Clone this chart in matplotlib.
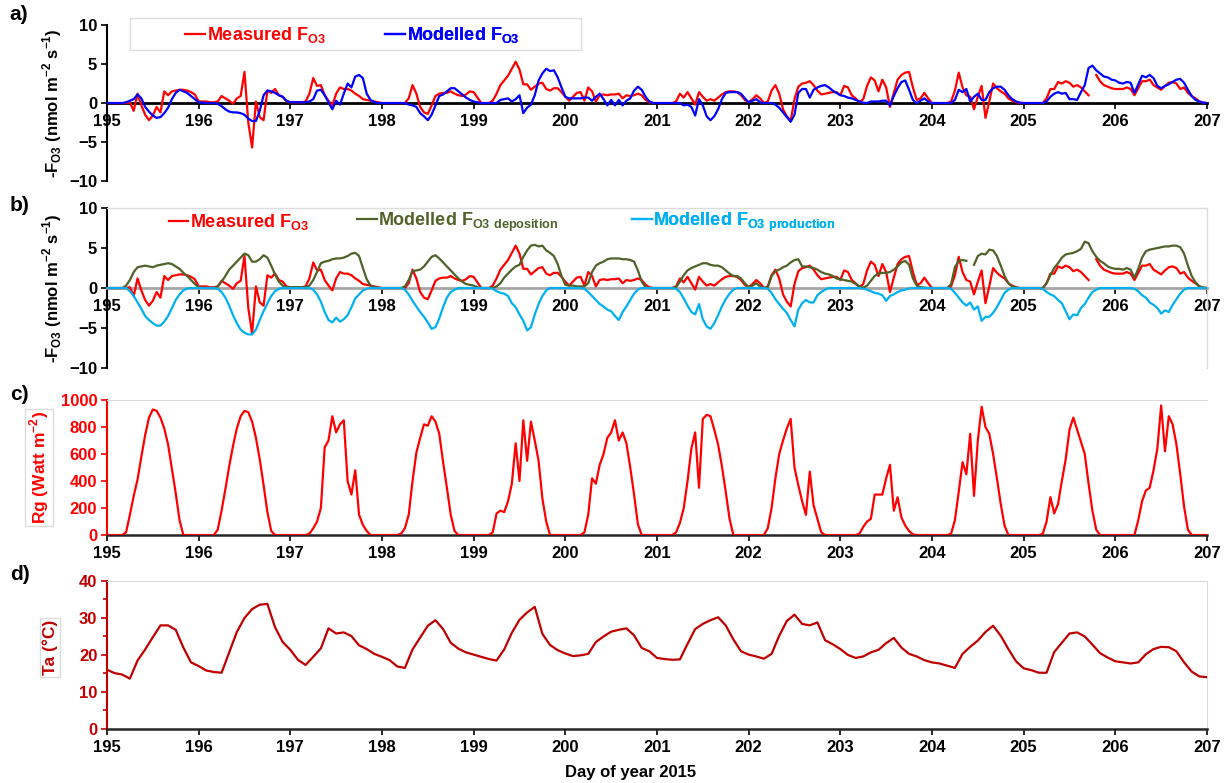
import numpy as np
import matplotlib
matplotlib.use("Agg")
import matplotlib.pyplot as plt
from matplotlib.lines import Line2D
from matplotlib.patches import Rectangle

nan = np.nan

plt.rcParams["font.family"] = ["Liberation Sans", "DejaVu Sans"]
plt.rcParams["font.weight"] = "bold"
plt.rcParams["mathtext.fontset"] = "custom"
plt.rcParams["mathtext.rm"] = "Liberation Sans:bold"
plt.rcParams["mathtext.bf"] = "Liberation Sans:bold"

# day-of-year tick labels
days = list(range(195, 208))

# hourly values, one row per day (195 ... 206), last value = day 207 00:00
meas_fo3 = [
    0, 0, 0, 0, 0, 0, 0.1, -1.0, 1.2, -0.3, -1.5, -2.2, -1.6, -0.5, -1.2, 1.5, 1.0, 1.5, 1.6, 1.7, 1.7, 1.6, 1.4, 1.1,
    0.2, 0.2, 0.2, 0.1, 0.1, 0.2, 0.9, 0.6, 0.3, -0.1, 0.6, 0.9, 4.0, -2.5, -5.7, 0.2, -1.8, -2.2, 1.6, 1.3, 1.8, 1.0, 0.8, 0.2,
    0.1, 0.1, 0.1, 0.1, 0.2, 1.2, 3.2, 2.2, 2.3, 1.0, 0.3, -0.3, 1.2, 2.0, 1.8, 1.8, 1.6, 1.2, 0.9, 0.5, 0.4, 0.3, 0.2, 0.1,
    0, 0, 0, 0, 0, 0, 0, 0.6, 2.3, 1.2, -0.5, -1.2, -1.4, -0.3, 0.9, 1.2, 1.3, 1.3, 1.5, 1.2, 1.0, 0.9, 1.1, 1.5,
    1.4, 0.7, 0, 0, 0, 0.3, 1.2, 2.3, 2.9, 3.5, 4.4, 5.3, 4.3, 2.4, 2.4, 1.7, 2.1, 2.5, 2.6, 1.8, 1.6, 1.9, 1.9, 1.4,
    0.8, 0.3, 0.8, 1.3, 1.4, 0.3, 2.0, 1.5, 0.2, 1.0, 1.1, 1.0, 1.1, 1.1, 1.2, 0.6, 1.0, 0.9, 1.0, 1.2, 1.0, 0.4, 0.1, 0,
    0, 0, 0, 0, 0, 0.2, 1.2, 0.7, 1.4, 0.6, -0.2, 1.4, 0.8, 0.3, 0.5, 0.3, 0.7, 1.1, 1.4, 1.5, 1.5, 1.4, 1.0, 0.4,
    0.1, 0.5, 1.0, 0.6, 0, 0.2, 1.6, 2.3, 1.2, -0.8, -1.7, -2.3, 0.5, 2.1, 2.5, 2.6, 2.8, 2.3, 1.6, 1.1, 1.2, 1.3, 1.4, 1.4,
    1.0, 2.2, 2.0, 1.0, 0.6, 0.1, 0.5, 2.2, 3.3, 2.9, 1.5, 3.0, 2.0, -0.5, 1.3, 3.0, 3.6, 3.9, 4.0, 2.0, 0.4, 0.6, 1.3, 0.6,
    0, 0, 0, 0, 0, 0.2, 1.6, 3.9, 2.0, 1.0, 0.8, -0.8, 0.8, 2.2, -1.9, 0.2, 2.5, 1.9, 1.5, 1.2, 0.6, 0.3, 0.1, 0,
    0, 0, 0, 0, 0, 0, 0.6, 1.8, 1.8, 2.7, 2.5, 2.8, 2.6, 2.1, 2.3, 2.0, 1.5, 1.0, nan, 3.6, 2.8, 2.3, 2.1, 1.9,
    1.8, 1.8, 1.8, 2.0, 1.8, 1.0, 1.9, 2.8, 2.8, 3.0, 2.3, 2.0, 1.7, 2.2, 2.6, 2.7, 2.5, 1.8, 2.0, 1.3, 0.9, 0.6, 0.2, 0.05,
    0]

model_fo3 = [
    0, 0, 0, 0, 0, 0.1, 0.3, 0.5, 1.1, 0.6, -0.5, -1.1, -1.6, -1.9, -1.8, -1.3, -0.6, 0.5, 1.3, 1.7, 1.5, 1.3, 0.9, 0.5,
    0.1, 0.05, 0, 0, 0, -0.1, -0.4, -0.8, -1.1, -1.2, -1.2, -1.3, -1.5, -2.0, -2.3, -2.3, -1.0, 1.0, 1.6, 1.5, 1.3, 1.0, 0.8, 0.3,
    0.1, 0.1, 0.1, 0.1, 0.1, 0.2, 0.5, 1.6, 1.7, 1.0, 0.1, -0.8, 0.3, -0.2, 1.2, 2.5, 2.0, 3.4, 3.6, 3.2, 1.2, 0.4, 0.1, 0,
    0, 0, 0, 0, 0, 0, 0, -0.2, -0.3, -0.5, -1.3, -1.7, -2.2, -1.5, -0.3, 0.9, 1.1, 1.5, 1.9, 1.9, 1.5, 1.1, 0.7, 0.4,
    0.2, 0.1, 0, 0, 0, 0, 0, 0.4, 0.5, 0.6, 0.2, 0.5, 1.0, -1.3, -0.6, -0.2, 1.0, 2.9, 3.8, 4.4, 4.1, 4.2, 3.3, 2.0,
    0.8, 0.6, 0.6, 0.6, 0.6, 0.7, 0.7, 0.3, 0.8, 1.2, 0.5, -0.3, 0.4, -0.3, 0.4, -0.3, 0.3, 0.6, 1.6, 2.1, 1.7, 0.8, 0.2, 0,
    0, 0, 0, 0, 0, 0, 0, -0.3, -0.2, -0.5, -1.6, 0.5, -0.3, -1.7, -2.2, -1.7, -0.8, 0.5, 1.3, 1.4, 1.4, 1.4, 1.2, 0.6,
    0.1, 0.3, 0.5, 0.1, 0, 0, 0, -0.2, -0.6, -1.2, -1.8, -2.4, -1.5, 1.3, 1.8, 1.8, 0.7, 1.7, 2.0, 2.2, 2.3, 2.0, 1.6, 1.3,
    1.0, 0.9, 0.7, 0.6, 0.4, 0.2, 0.05, 0, 0.2, 0.2, 0.2, 0.3, 0.3, -0.3, 0.9, 1.9, 2.7, 2.9, 1.7, 0.4, 0, 0.3, 0.6, 0.2,
    0, 0, 0, 0, 0, 0, 0.4, 1.7, 1.4, 1.8, 0.2, 0.8, 1.2, 0.4, 0.4, 1.4, 1.9, 2.1, 2.1, 1.7, 1.0, 0.5, 0.2, 0.05,
    0, 0, 0, 0, 0, 0, 0.2, 0.8, 1.2, 1.4, 1.2, 1.3, 0.5, 0.5, 0.4, 1.4, 2.3, 4.5, 4.8, 4.2, 3.8, 3.4, 3.3, 3.0,
    2.9, 2.6, 2.5, 2.7, 2.6, 1.3, 2.4, 3.5, 3.3, 3.6, 3.2, 2.2, 1.9, 2.2, 2.4, 2.7, 3.0, 3.1, 2.6, 1.7, 0.9, 0.4, 0.2, 0.05,
    0]

dep_fo3 = [
    0, 0, 0, 0, 0, 0.3, 1.0, 2.0, 2.6, 2.7, 2.8, 2.7, 2.6, 2.8, 2.9, 3.0, 3.1, 3.0, 2.7, 2.4, 1.9, 1.5, 1.0, 0.5,
    0.1, 0, 0, 0, 0, 0.2, 0.8, 1.5, 2.3, 2.8, 3.3, 3.8, 4.3, 4.1, 3.3, 3.3, 3.6, 4.1, 3.8, 2.8, 1.7, 0.8, 0.3, 0.1,
    0.1, 0.1, 0.1, 0.1, 0.1, 0.3, 1.0, 2.0, 3.1, 3.3, 3.4, 3.6, 3.7, 3.7, 3.8, 4.0, 4.3, 4.4, 4.0, 2.5, 1.1, 0.3, 0.1, 0,
    0, 0, 0, 0, 0, 0, 0.2, 1.0, 2.1, 2.2, 2.3, 2.7, 3.3, 3.9, 4.1, 3.7, 3.2, 2.7, 2.2, 1.7, 1.2, 0.8, 0.5, 0.4,
    0.3, 0.1, 0, 0, 0, 0, 0.2, 0.6, 1.3, 1.8, 2.3, 2.7, 2.9, 3.9, 4.7, 5.3, 5.4, 5.2, 5.3, 4.7, 4.4, 4.0, 3.0, 1.5,
    0.4, 0.3, 0.3, 0.2, 0.2, 0.2, 0.6, 2.0, 2.8, 3.1, 3.3, 3.6, 3.7, 3.7, 3.7, 3.6, 3.6, 3.5, 3.3, 2.2, 0.8, 0.1, 0, 0,
    0, 0, 0, 0, 0, 0.1, 0.8, 1.6, 2.2, 2.5, 2.7, 2.9, 3.1, 3.1, 2.9, 2.8, 2.8, 2.6, 2.2, 1.8, 1.5, 1.5, 1.2, 0.6,
    0.1, 0.3, 0.6, 0.2, 0, 0.1, 1.5, 2.1, 2.3, 2.6, 2.8, 3.2, 3.5, 3.6, 2.7, 2.7, 2.6, 2.5, 2.3, 2.0, 1.8, 1.7, 1.5, 1.2,
    1.1, 1.0, 0.9, 0.8, 0.5, 0.2, 0.05, 0.3, 0.9, 1.5, 1.8, 1.9, 1.9, 2.0, 2.3, 2.7, 3.2, 3.4, 2.9, 1.2, 0.3, 0.1, 0.05, 0,
    0, 0, 0, 0, 0, 0.5, 2.6, 3.4, 3.5, 3.4, nan, 2.9, 4.0, 4.3, 4.2, 4.8, 4.7, 4.0, 2.8, 1.5, 0.6, 0.2, 0.05, 0,
    0, 0, 0, 0, 0, 0, 0.6, 1.6, 2.5, 3.1, 3.8, 4.2, 4.3, 4.4, 4.6, 4.9, 5.8, 5.6, 4.6, 3.9, 3.4, 3.1, 2.7, 2.5,
    2.4, 2.4, 2.3, 2.5, 2.3, 1.3, 2.4, 3.8, 4.6, 4.8, 4.9, 5.0, 5.1, 5.2, 5.2, 5.3, 5.3, 5.1, 4.3, 2.8, 1.5, 0.7, 0.2, 0.05,
    0]

prod_fo3 = [
    0, 0, 0, 0, 0, 0, -0.4, -1.0, -1.8, -2.6, -3.5, -4.0, -4.4, -4.7, -4.7, -4.2, -3.5, -2.5, -1.5, -0.8, -0.3, -0.05, 0, 0,
    0, 0, 0, 0, 0, -0.1, -0.5, -1.2, -2.2, -3.4, -4.4, -5.2, -5.6, -5.8, -5.8, -5.2, -4.0, -2.9, -1.9, -1.0, -0.4, -0.1, 0, 0,
    0, 0, 0, 0, 0, 0, -0.2, -0.8, -1.7, -3.0, -4.0, -4.3, -3.7, -4.2, -3.9, -3.4, -2.4, -1.3, -0.8, -0.3, -0.1, 0, 0, 0,
    0, 0, 0, 0, 0, 0, -0.2, -0.8, -1.6, -2.3, -3.0, -3.6, -4.3, -5.1, -4.9, -3.8, -2.4, -1.2, -0.5, -0.2, 0, 0, 0, 0,
    0, 0, 0, 0, 0, -0.1, -0.4, -0.6, -0.7, -1.0, -1.9, -2.4, -3.3, -4.1, -5.3, -4.9, -3.3, -2.0, -1.0, -0.3, 0, 0, 0, 0,
    0, 0, 0, 0, 0, -0.1, -0.5, -1.0, -1.5, -2.0, -2.3, -2.7, -2.9, -3.5, -4.0, -3.0, -2.3, -1.5, -0.7, -0.2, 0, 0, 0, 0,
    0, 0, 0, 0, 0, -0.1, -0.5, -1.3, -2.2, -3.0, -3.3, -2.0, -3.9, -4.8, -5.1, -4.4, -3.4, -2.3, -1.4, -0.7, -0.2, 0, 0, 0,
    0, 0, 0, 0, 0, -0.1, -0.6, -1.4, -2.0, -2.6, -3.1, -4.0, -4.8, -2.7, -1.9, -1.5, -1.8, -1.8, -0.9, -0.5, -0.2, 0, 0, 0,
    0, 0, 0, 0, 0, 0, -0.1, -0.2, -0.4, -0.6, -0.7, -0.9, -1.6, -1.0, -0.8, -0.5, -0.3, -0.2, -0.05, 0, 0, 0, 0, 0,
    0, 0, 0, 0, 0, -0.1, -0.6, -1.2, -1.8, -2.2, -1.8, -2.7, -2.3, -4.1, -3.6, -3.6, -3.1, -2.4, -1.5, -0.6, -0.2, 0, 0, 0,
    0, 0, 0, 0, 0, -0.1, -0.5, -0.8, -1.0, -1.5, -1.9, -2.9, -3.9, -3.3, -3.4, -2.5, -2.0, -1.2, -0.5, -0.2, 0, 0, 0, 0,
    0, 0, 0, 0, 0, -0.1, -0.4, -0.9, -1.2, -1.8, -2.1, -2.5, -3.2, -2.8, -3.0, -2.1, -1.4, -0.7, -0.2, 0, 0, 0, 0, 0,
    0]

rg = [
    0, 0, 0, 0, 0, 20, 150, 290, 410, 580, 740, 870, 930, 920, 870, 790, 670, 490, 310, 110, 0, 0, 0, 0,
    0, 0, 0, 0, 0, 40, 180, 340, 510, 660, 790, 880, 920, 910, 840, 720, 560, 370, 170, 30, 0, 0, 0, 0,
    0, 0, 0, 0, 0, 10, 50, 100, 200, 650, 700, 880, 760, 820, 850, 400, 300, 480, 150, 75, 30, 0, 0, 0,
    0, 0, 0, 0, 0, 10, 50, 150, 400, 610, 720, 820, 810, 880, 840, 750, 540, 350, 150, 30, 0, 0, 0, 0,
    0, 0, 0, 0, 0, 20, 160, 180, 170, 250, 380, 680, 400, 850, 550, 840, 700, 550, 270, 100, 0, 0, 0, 0,
    0, 0, 0, 0, 0, 20, 150, 420, 380, 520, 600, 720, 760, 850, 700, 760, 680, 500, 300, 80, 0, 0, 0, 0,
    0, 0, 0, 0, 0, 20, 90, 200, 400, 640, 760, 350, 860, 890, 880, 780, 670, 510, 320, 120, 0, 0, 0, 0,
    0, 0, 0, 0, 0, 50, 200, 420, 600, 700, 790, 860, 500, 370, 250, 150, 470, 220, 120, 20, 0, 0, 0, 0,
    0, 0, 0, 0, 0, 10, 60, 100, 120, 300, 300, 300, 420, 520, 180, 280, 130, 70, 30, 5, 0, 0, 0, 0,
    0, 0, 0, 0, 0, 10, 110, 320, 540, 450, 750, 290, 700, 950, 800, 750, 600, 420, 230, 70, 0, 0, 0, 0,
    0, 0, 0, 0, 0, 10, 100, 280, 160, 230, 400, 560, 780, 870, 780, 690, 600, 380, 180, 40, 0, 0, 0, 0,
    0, 0, 0, 0, 0, 0, 110, 250, 330, 350, 480, 640, 960, 620, 880, 820, 670, 450, 210, 40, 0, 0, 0, 0,
    0]

# air temperature, 2-hourly, one row per day
ta = [
    16.0, 15.1, 14.7, 13.6, 18.5, 21.5, 24.8, 28.0, 28.0, 26.8, 22.0, 18.0,
    17.0, 15.8, 15.4, 15.2, 20.7, 26.2, 30.0, 32.4, 33.6, 33.8, 27.5, 23.5,
    21.4, 18.7, 17.3, 19.5, 21.8, 27.2, 25.8, 26.1, 25.1, 22.6, 21.6, 20.3,
    19.5, 18.6, 16.9, 16.5, 21.5, 24.7, 27.9, 29.4, 27.0, 23.3, 21.7, 20.7,
    20.1, 19.5, 18.9, 18.5, 21.5, 26.0, 29.5, 31.5, 33.0, 25.7, 22.7, 21.3,
    20.4, 19.7, 19.9, 20.3, 23.5, 25.0, 26.3, 26.8, 27.2, 25.3, 21.9, 21.0,
    19.2, 18.9, 18.7, 18.8, 23.0, 27.0, 28.4, 29.4, 30.2, 28.0, 24.2, 21.0,
    20.1, 19.6, 19.0, 20.3, 25.2, 29.2, 30.9, 28.4, 28.0, 28.8, 24.0, 22.9,
    21.6, 20.0, 19.2, 19.6, 20.7, 21.4, 23.2, 24.6, 22.0, 20.3, 19.6, 18.6,
    18.0, 17.7, 17.1, 16.5, 20.3, 22.2, 23.9, 26.2, 27.9, 25.2, 21.6, 18.3,
    16.4, 15.9, 15.2, 15.2, 20.8, 23.3, 25.8, 26.1, 25.0, 22.8, 20.5, 19.3,
    18.3, 18.0, 17.7, 18.0, 20.2, 21.6, 22.2, 22.1, 21.0, 18.0, 15.5, 14.2,
    14.0]

t_hour = days[0] + np.arange(len(meas_fo3)) / 24.0
t_ta = days[0] + np.arange(len(ta)) / 12.0

RED = "#FF0000"
BLUE = "#0000FF"
GREEN = "#4F6228"
CYAN = "#00B0F0"
DARKRED = "#C00000"
FRAME = "#DCDCDC"

FLUX_LABEL = r"-F$_{\mathbf{O3}}$ (nmol m$^{\mathbf{-2}}$ s$^{\mathbf{-1}}$)"


def add_key(ax, x, y, color, label):
    handle = Line2D([], [], color=color, lw=1.6)
    leg = ax.legend([handle], [label], loc="center left", bbox_to_anchor=(x, y),
                    frameon=False, handlelength=1.1, handletextpad=0.1,
                    borderpad=0, borderaxespad=0, labelcolor=color,
                    prop={"size": 13, "weight": "bold"})
    ax.add_artist(leg)


def style_common(ax):
    ax.set_xlim(days[0], days[-1])
    ax.set_xticks(days)
    ax.tick_params(axis="x", direction="out", length=4, width=1.2, pad=4, labelsize=12)
    ax.tick_params(axis="y", direction="out", length=4, width=1.2, pad=3, labelsize=12)
    ax.patch.set_alpha(0)


def style_flux(ax, zero_color):
    style_common(ax)
    ax.set_ylim(-10, 10)
    ax.set_yticks([-10, -5, 0, 5, 10])
    ax.spines["bottom"].set_position(("data", 0))
    ax.spines["bottom"].set_color(zero_color)
    ax.spines["bottom"].set_linewidth(2)
    ax.spines["left"].set_linewidth(1.5)
    ax.text(-0.05, 0.5, FLUX_LABEL, transform=ax.transAxes, rotation=90,
            ha="center", va="center", fontsize=12, fontweight="bold")


fig = plt.figure(figsize=(12.31, 7.83), dpi=100)
L, W = 0.0869, 0.8936
ax_a = fig.add_axes([L, 0.7688, W, 0.1992])
ax_b = fig.add_axes([L, 0.530, W, 0.2043])
ax_c = fig.add_axes([L, 0.3167, W, 0.1724])
ax_d = fig.add_axes([L, 0.069, W, 0.189])

# a) measured vs modelled net flux
style_flux(ax_a, "black")
ax_a.spines["top"].set_visible(False)
ax_a.spines["right"].set_visible(False)
ax_a.plot(t_hour, meas_fo3, color=RED, lw=1.6, zorder=3)
ax_a.plot(t_hour, model_fo3, color=BLUE, lw=1.6, zorder=3)
ax_a.add_patch(Rectangle((0.021, 0.84), 0.41, 0.205, transform=ax_a.transAxes,
                         facecolor="white", edgecolor=FRAME, lw=1, clip_on=False, zorder=1))
add_key(ax_a, 0.071, 0.936, RED, r"Measured F$_{\mathbf{O3}}$")
add_key(ax_a, 0.253, 0.936, BLUE, r"Modelled F$_{\mathbf{O3}}$")

# b) measured vs modelled deposition and production
style_flux(ax_b, "#A6A6A6")
for s in ("top", "right"):
    ax_b.spines[s].set_color(FRAME)
    ax_b.spines[s].set_linewidth(1)
ax_b.plot(t_hour, meas_fo3, color=RED, lw=1.6, zorder=3)
ax_b.plot(t_hour, dep_fo3, color=GREEN, lw=1.6, zorder=3)
ax_b.plot(t_hour, prod_fo3, color=CYAN, lw=1.6, zorder=3)
add_key(ax_b, 0.056, 0.9125, RED, r"Measured F$_{\mathbf{O3}}$")
add_key(ax_b, 0.227, 0.9125, GREEN, r"Modelled F$_{\mathbf{O3\ deposition}}$")
add_key(ax_b, 0.477, 0.9125, CYAN, r"Modelled F$_{\mathbf{O3\ production}}$")

# c) global radiation
style_common(ax_c)
ax_c.plot(t_hour, rg, color=RED, lw=1.6, zorder=3)
ax_c.set_ylim(0, 1000)
ax_c.set_yticks(range(0, 1001, 200))
ax_c.spines["left"].set_color(RED)
ax_c.spines["left"].set_linewidth(1.5)
ax_c.spines["bottom"].set_color("#262626")
ax_c.spines["bottom"].set_linewidth(1.8)
ax_c.spines["top"].set_color(FRAME)
ax_c.spines["right"].set_visible(False)
ax_c.tick_params(axis="y", colors=RED)
ax_c.text(-0.062, 0.5, r"Rg (Watt m$^{\mathbf{-2}}$)", transform=ax_c.transAxes, rotation=90,
          ha="center", va="center", fontsize=12.5, fontweight="bold", color=RED,
          bbox=dict(facecolor="white", edgecolor=FRAME, pad=1.5))

# d) air temperature
style_common(ax_d)
ax_d.plot(t_ta, ta, color=DARKRED, lw=1.6, zorder=3)
ax_d.set_ylim(0, 40)
ax_d.set_yticks(range(0, 41, 10))
ax_d.set_yticks(range(5, 40, 10), minor=True)
ax_d.spines["left"].set_color(DARKRED)
ax_d.spines["left"].set_linewidth(1.5)
ax_d.spines["bottom"].set_color("#262626")
ax_d.spines["bottom"].set_linewidth(1.8)
for s in ("top", "right"):
    ax_d.spines[s].set_color(FRAME)
ax_d.tick_params(axis="y", which="both", colors=DARKRED)
ax_d.tick_params(axis="y", which="minor", length=3, width=1.2)
ax_d.text(-0.052, 0.55, "Ta (°C)", transform=ax_d.transAxes, rotation=90,
          ha="center", va="center", fontsize=12.5, fontweight="bold", color=DARKRED,
          bbox=dict(facecolor="white", edgecolor=FRAME, pad=1.5))

for ax in (ax_a, ax_b, ax_c, ax_d):
    for lab in ax.get_xticklabels() + ax.get_yticklabels():
        lab.set_fontweight("bold")

fig.text(0.512, 0.013, "Day of year 2015", ha="center", va="center", fontsize=12, fontweight="bold")
for letter, y in (("a)", 0.981), ("b)", 0.738), ("c)", 0.496), ("d)", 0.266)):
    fig.text(0.008, y, letter, ha="left", va="center", fontsize=15, fontweight="bold")

fig.savefig("out.png", dpi=100)
